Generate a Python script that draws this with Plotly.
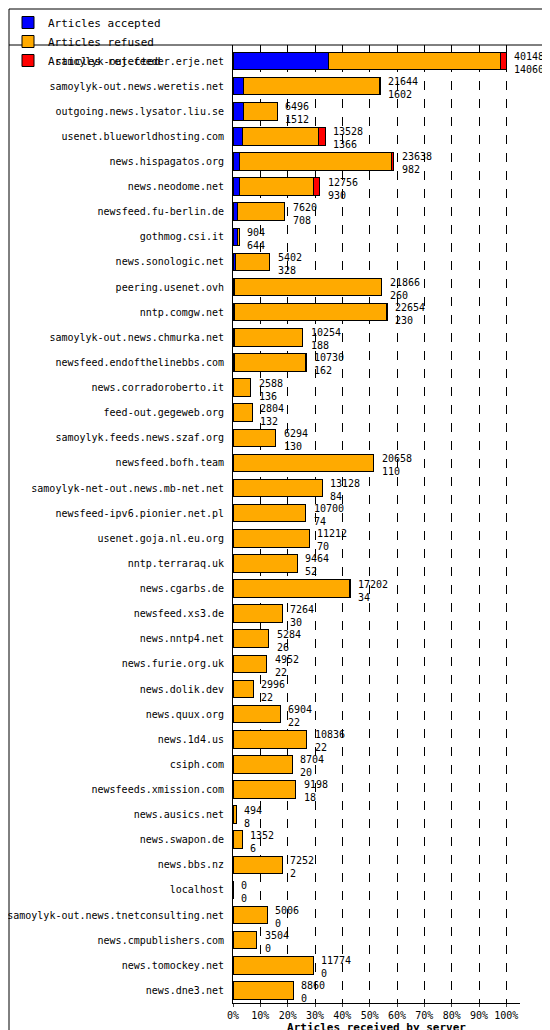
import plotly.graph_objects as go

servers = ["samoylyk-out.feeder.erje.net","samoylyk-out.news.weretis.net","outgoing.news.lysator.liu.se",
"usenet.blueworldhosting.com","news.hispagatos.org","news.neodome.net","newsfeed.fu-berlin.de","gothmog.csi.it",
"news.sonologic.net","peering.usenet.ovh","nntp.comgw.net","samoylyk-out.news.chmurka.net","newsfeed.endofthelinebbs.com",
"news.corradoroberto.it","feed-out.gegeweb.org","samoylyk.feeds.news.szaf.org","newsfeed.bofh.team",
"samoylyk-net-out.news.mb-net.net","newsfeed-ipv6.pionier.net.pl","usenet.goja.nl.eu.org","nntp.terraraq.uk",
"news.cgarbs.de","newsfeed.xs3.de","news.nntp4.net","news.furie.org.uk","news.dolik.dev","news.quux.org",
"news.1d4.us","csiph.com","newsfeeds.xmission.com","news.ausics.net","news.swapon.de","news.bbs.nz","localhost",
"samoylyk-out.news.tnetconsulting.net","news.cmpublishers.com","news.tomockey.net","news.dne3.net"]
offered = [40148,21644,6496,13528,23638,12756,7620,904,5402,21866,22654,10254,10730,2588,2804,6294,20658,13128,
10700,11212,9464,17202,7264,5284,4952,2996,6904,10836,8704,9198,494,1352,7252,0,5006,3504,11774,8860]
accepted = [14060,1602,1512,1366,982,930,708,644,328,260,230,188,162,136,132,130,110,84,74,70,52,34,30,26,22,22,22,
22,20,18,8,6,2,0,0,0,0,0]
rejected = [890,60,30,1030,300,900,40,0,0,40,40,0,30,0,0,30,40,30,30,30,30,30,30,0,30,30,0,30,0,0,0,0,0,0,0,0,0,0]
refused = [o - a - r for o, a, r in zip(offered, accepted, rejected)]
ticks = list(range(0, 101, 10))

mx = max(offered)
pct = lambda v: [x / mx * 100 for x in v]
font = dict(family="DejaVu Sans Mono", size=10, color="black")
PW = 550 - 225 - 38
PH = 1030 - 37 - 35

fig = go.Figure()
for name, vals, col in [("Articles accepted", accepted, "#0000ff"),
                        ("Articles refused", refused, "#ffaa00"),
                        ("Articles rejected", rejected, "#ff0000")]:
    fig.add_bar(y=servers, x=pct(vals), orientation="h", name=name, marker_color=col,
                marker_line=dict(color="black", width=1))

for s, o, a in zip(servers, offered, accepted):
    fig.add_annotation(x=o / mx * 100, y=s, text=f"{o}<br>{a}", showarrow=False, xanchor="left",
                       xshift=6, yshift=-2, align="left", font=font)

fig.update_layout(
    width=550, height=1030, barmode="stack", bargap=0.3, plot_bgcolor="white", paper_bgcolor="white",
    margin=dict(l=225, r=38, t=37, b=35, autoexpand=False), font=font,
    legend=dict(orientation="h", x=0.0, y=1.0, xref="container", yref="container", xanchor="left", yanchor="top",
                traceorder="normal", font=dict(family="DejaVu Sans Mono", size=11),
                entrywidth=180, entrywidthmode="pixels", itemwidth=30, bgcolor="rgba(0,0,0,0)"),
    xaxis=dict(range=[0, 105], tickvals=ticks, ticktext=[f"{t}%" for t in ticks], showgrid=True,
               gridcolor="black", griddash="dash", gridwidth=1, showline=True, linecolor="black",
               ticks="outside", ticklen=3,
               title=dict(text="<b>Articles received by server</b>", standoff=2,
                          font=dict(family="DejaVu Sans Mono", size=11))),
    yaxis=dict(autorange="reversed", showline=True, linecolor="black", ticks="", ticksuffix=" ",
               tickfont=dict(family="DejaVu Sans Mono", size=10)),
    shapes=[dict(type="rect", xref="paper", yref="paper", x0=-224/PW, x1=1+37/PW, y0=-34/PH, y1=1+36/PH,
                 line=dict(color="black", width=1)),
            dict(type="line", xref="paper", yref="paper", x0=-224/PW, x1=1+37/PW, y0=1, y1=1,
                 line=dict(color="black", width=1))],
)
fig.write_html("out.html")
